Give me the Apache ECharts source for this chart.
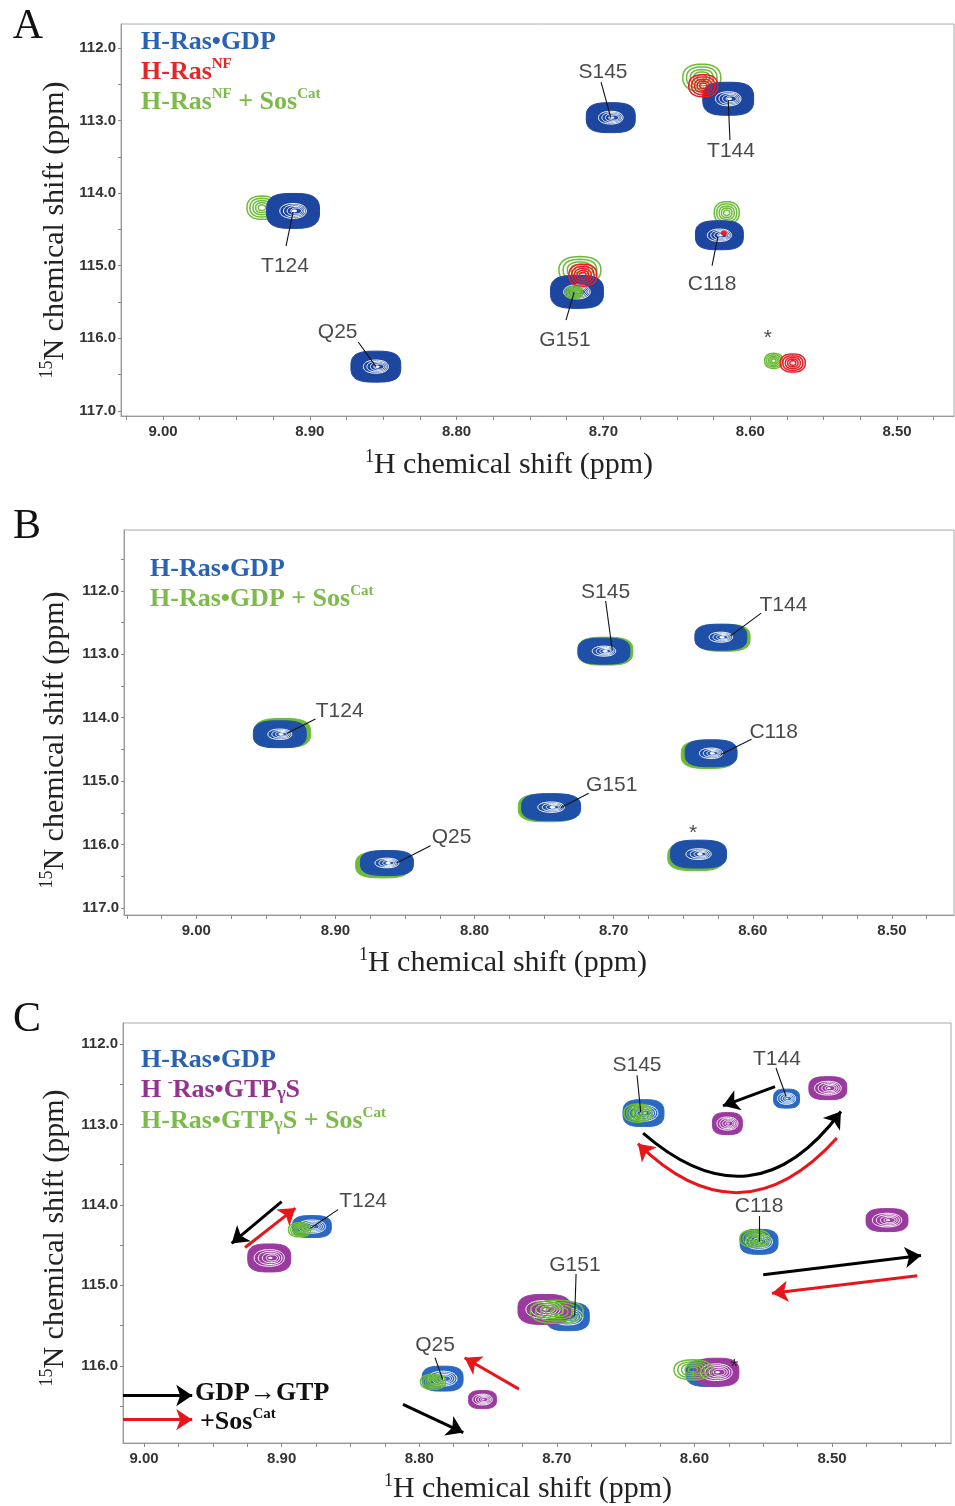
<!DOCTYPE html>
<html><head><meta charset="utf-8">
<script src="https://cdn.jsdelivr.net/npm/echarts@6/dist/echarts.min.js"></script>
<style>html,body{margin:0;padding:0;background:#fff}#c{width:955px;height:1506px}</style>
</head><body><div id="c"></div>
<script>
// ---------- tick labels ----------
const xTickLabels = [9.00, 8.90, 8.80, 8.70, 8.60, 8.50];
const yTickLabels = [112, 113, 114, 115, 116, 117];
const xMinorTicks = [8.425,8.45,8.475,8.5,8.525,8.55,8.575,8.6,8.625,8.65,8.675,8.7,8.725,8.75,8.775,8.8,8.825,8.85,8.875,8.9,8.925,8.95,8.975,9.0,9.025,9.05];
const yMinorTicks = [111.5,112,112.5,113,113.5,114,114.5,115,115.5,116,116.5,117];

// ---------- peaks: [1H ppm, 15N ppm, width 1H ppm, width 15N ppm] ----------
// Panel A
const peaksA_green = [[8.9326,114.20,0.0204,0.32],[8.633,112.41,0.0259,0.372],[8.616,114.27,0.017,0.303],[8.716,115.06,0.0286,0.372],[8.584,116.31,0.0123,0.207]];
const peaksA_blue  = [[8.9114,114.245,0.0361,0.482],[8.855,116.39,0.034,0.427],[8.695,112.96,0.0334,0.413],[8.615,112.70,0.0347,0.455],[8.621,114.58,0.0327,0.40],[8.718,115.36,0.0361,0.455]];
const peaksA_red   = [[8.632,112.52,0.0198,0.303],[8.714,115.13,0.019,0.303],[8.618,114.55,0.003,0.05],[8.571,116.34,0.017,0.248]];
const peaksA_greenInner = [[8.720,115.37,0.012,0.16]];
// Panel B
const peaksB_green = [[8.938,114.24,0.0403,0.457],[8.866,116.32,0.039,0.41],[8.706,112.95,0.0396,0.44],[8.621,112.74,0.0381,0.425],[8.632,114.58,0.0389,0.44],[8.747,115.42,0.0432,0.44],[8.641,116.19,0.0403,0.441]];
const peaksB_blue  = [[8.94,114.26,0.0381,0.425],[8.863,116.29,0.0381,0.394],[8.707,112.95,0.0374,0.41],[8.623,112.73,0.0374,0.41],[8.630,114.56,0.0374,0.425],[8.745,115.41,0.0424,0.425],[8.639,116.15,0.0403,0.441]];
// Panel C
const peaksC_blue   = [[8.878,114.27,0.0283,0.273],[8.783,116.16,0.0298,0.31],[8.637,112.86,0.0298,0.335],[8.533,112.68,0.0189,0.236],[8.553,114.46,0.0276,0.31],[8.692,115.39,0.0313,0.348],[8.589,116.09,0.0342,0.335]];
const peaksC_purple = [[8.909,114.66,0.0313,0.348],[8.754,116.42,0.0203,0.224],[8.576,112.99,0.0218,0.273],[8.503,112.55,0.0276,0.286],[8.46,114.19,0.0305,0.286],[8.709,115.30,0.0385,0.373],[8.584,116.08,0.0327,0.348]];
const peaksC_green  = [[8.887,114.31,0.016,0.174],[8.79,116.2,0.018,0.186],[8.641,112.86,0.0203,0.224],[8.556,114.42,0.0218,0.211],[8.70,115.33,0.0385,0.286],[8.601,116.05,0.0276,0.248]];

// ---------- residue labels [text, 1H, 15N] and leader lines [x1,y1,x2,y2] ----------
const labelsA = [['S145',8.7003,112.33],['T144',8.6131,113.42],['T124',8.9169,115.00],['C118',8.626,115.26],['G151',8.7262,116.02],['Q25',8.881,115.91],['*',8.588,116.0]];
const leadersA = [[8.7016,112.47,8.695,112.96],[8.6138,113.27,8.615,112.72],[8.9162,114.73,8.9114,114.26],[8.626,115.00,8.622,114.60],[8.7255,115.75,8.720,115.37],[8.867,116.05,8.855,116.39]];
const labelsB = [['T124',8.897,113.90],['Q25',8.8165,115.88],['S145',8.7058,112.02],['T144',8.578,112.23],['C118',8.585,114.23],['G151',8.7014,115.06],['*',8.643,115.82]];
const leadersB = [[8.9144,114.02,8.935,114.25],[8.8317,116.02,8.856,116.29],[8.7058,112.16,8.701,112.94],[8.594,112.35,8.616,112.71],[8.601,114.34,8.623,114.58],[8.718,115.19,8.738,115.42]];
const labelsC = [['T124',8.8408,113.96],['Q25',8.7885,115.75],['S145',8.6417,112.27],['T144',8.54,112.19],['C118',8.553,114.02],['G151',8.6868,114.75],['*',8.571,116.02]];
const leadersC = [[8.859,114.06,8.879,114.29],[8.7885,115.90,8.783,116.17],[8.6417,112.39,8.639,112.85],[8.5407,112.30,8.5334,112.65],[8.553,114.14,8.553,114.46],[8.686,114.86,8.687,115.38]];

// ---------- panel C arrows [x1,y1,x2,y2,curveness] ----------
const arrowsC_black = [[8.9,113.96,8.9363,114.48,0],[8.8118,116.48,8.768,116.83,0],[8.5414,112.53,8.5792,112.77,0],[8.6373,113.11,8.4935,112.84,-0.54],[8.55,114.87,8.4353,114.63,0],[9.0153,116.37,8.965,116.37,0]];
const arrowsC_red   = [[8.9266,114.53,8.890,114.04,0],[8.7275,116.29,8.767,115.90,0],[8.4964,113.17,8.641,113.24,0.52],[8.438,114.88,8.5436,115.10,0],[9.0153,116.67,8.965,116.67,0]];

// ---------- layout ----------
const panels = [
  {left:121, top:24,   width:833, height:392, xmin:8.4612, xmax:9.0286, ymin:111.67, ymax:117.07},
  {left:124, top:530,  width:830, height:385, xmin:8.4554, xmax:9.052,  ymin:111.04, ymax:117.11},
  {left:123, top:1023, width:828, height:420, xmin:8.4135, xmax:9.0153, ymin:111.74, ymax:116.96}
];
const COL = {blueA:'#1d46a0', blueB:'#1f50a8', blueC:'#2a68c2', green:'#6cbc38', red:'#ec1c24', purple:'#9a3a9e',
  lgBlue:'#2a62b3', lgRed:'#e2262a', lgGreen:'#7cba4a', lgPurple:'#92348e'};

function sePts(cx, cy, rx, ry, n, seg) {
  const pts = [];
  for (let i = 0; i < seg; i++) {
    const t = i / seg * Math.PI * 2, c = Math.cos(t), s = Math.sin(t);
    pts.push([cx + rx * Math.sign(c) * Math.pow(Math.abs(c), 2 / n), cy + ry * Math.sign(s) * Math.pow(Math.abs(s), 2 / n)]);
  }
  return pts;
}
function makeRender(color, mode, whites) {
  return function (params, api) {
    const x = api.value(0), y = api.value(1);
    const c = api.coord([x, y]);
    const s = api.size([api.value(2), api.value(3)], [x, y]);
    const rx = s[0] / 2, ry = s[1] / 2;
    const ch = [];
    if (mode === 'rings') {
      [1, 0.8, 0.6, 0.42, 0.24].forEach(k => ch.push({type:'polygon', shape:{points: sePts(c[0], c[1], rx * k, ry * k, 2.4, 40)},
        style:{fill:'none', stroke:color, lineWidth:1.5}}));
    } else {
      ch.push({type:'polygon', shape:{points: sePts(c[0], c[1], rx, ry, 3, 56)}, style:{fill:color, stroke:color, lineWidth:1}});
      if (mode === 'solid') {
        whites.forEach((k, i) => ch.push({type:'polygon', shape:{points: sePts(c[0] + rx * 0.04 * i, c[1], rx * k, ry * k * 0.85, 2.2, 40)},
          style:{fill:'none', stroke:'#fff', lineWidth:1}}));
        ch.push({type:'polygon', shape:{points: sePts(c[0] + rx * 0.05, c[1], rx * 0.1, ry * 0.08, 2, 20)}, style:{fill:'#fff'}});
      }
    }
    return {type:'group', children: ch};
  };
}
function peakSeries(pi, data, color, mode, whites, z) {
  return {type:'custom', xAxisIndex:pi, yAxisIndex:pi, data:data, encode:{x:0, y:1}, z:z, silent:true,
    renderItem: makeRender(color, mode, whites || [])};
}
function labelSeries(pi, labels) {
  return {type:'scatter', xAxisIndex:pi, yAxisIndex:pi, z:20, silent:true, symbolSize:1,
    itemStyle:{color:'rgba(0,0,0,0)'},
    label:{show:true, position:'inside', formatter: p => p.name, fontSize:21, color:'#1a1a1a', fontFamily:'Liberation Sans, Arial, sans-serif'},
    data: labels.map(l => ({name:l[0], value:[l[1], l[2]]}))};
}
function leaderSeries(pi, leaders) {
  return {type:'lines', coordinateSystem:'cartesian2d', xAxisIndex:pi, yAxisIndex:pi, z:15, silent:true,
    symbol:'none', lineStyle:{color:'#111', width:1.1, opacity:1},
    data: leaders.map(l => ({coords:[[l[0], l[1]], [l[2], l[3]]]}))};
}
function arrowSeries(pi, arrows, color) {
  return {type:'lines', coordinateSystem:'cartesian2d', xAxisIndex:pi, yAxisIndex:pi, z:16, silent:true,
    symbol:['none','arrow'], symbolSize:[12,16],
    lineStyle:{color:color, width:3, opacity:1},
    data: arrows.map(a => ({coords:[[a[0], a[1]], [a[2], a[3]]], lineStyle:{curveness:a[4], color:color, width:3}}))};
}

const grids = [], xAxes = [], yAxes = [];
panels.forEach((p, i) => {
  grids.push({left:p.left, top:p.top, width:p.width, height:p.height, show:true, borderColor:'#a8a8a8', borderWidth:1, containLabel:false});
  xAxes.push({type:'value', gridIndex:i, inverse:true, min:p.xmin, max:p.xmax, splitLine:{show:false},
    axisLine:{show:true, lineStyle:{color:'#999', width:1}},
    axisTick:{show:true, length:4, lineStyle:{color:'#888'}, customValues: xMinorTicks.filter(v => v >= p.xmin && v <= p.xmax)},
    axisLabel:{customValues: xTickLabels, formatter: v => (+v).toFixed(2), fontSize:15, fontWeight:'bold', color:'#333', margin:8, fontFamily:'Liberation Sans, Arial, sans-serif'}});
  yAxes.push({type:'value', gridIndex:i, inverse:true, min:p.ymin, max:p.ymax, splitLine:{show:false},
    axisLine:{show:true, lineStyle:{color:'#999', width:1}},
    axisTick:{show:true, length:3, lineStyle:{color:'#888'}, customValues: yMinorTicks.filter(v => v >= p.ymin && v <= p.ymax)},
    axisLabel:{customValues: yTickLabels, formatter: v => (+v).toFixed(1), fontSize:15, fontWeight:'bold', color:'#333', margin:5, fontFamily:'Liberation Sans, Arial, sans-serif'}});
});

const series = [
  peakSeries(0, peaksA_green, COL.green, 'rings', null, 2),
  peakSeries(0, peaksA_blue, COL.blueA, 'solid', [0.5, 0.4, 0.3, 0.2], 3),
  peakSeries(0, peaksA_red, COL.red, 'rings', null, 4),
  peakSeries(0, peaksA_greenInner, COL.green, 'rings', null, 5),
  leaderSeries(0, leadersA), labelSeries(0, labelsA),
  peakSeries(1, peaksB_green, COL.green, 'fill', null, 2),
  peakSeries(1, peaksB_blue, COL.blueB, 'solid', [0.45, 0.34, 0.24, 0.15], 3),
  leaderSeries(1, leadersB), labelSeries(1, labelsB),
  peakSeries(2, peaksC_blue, COL.blueC, 'solid', [0.7, 0.55, 0.4, 0.26], 2),
  peakSeries(2, peaksC_purple, COL.purple, 'solid', [0.7, 0.55, 0.4, 0.26], 3),
  peakSeries(2, peaksC_green, COL.green, 'rings', null, 4),
  leaderSeries(2, leadersC), labelSeries(2, labelsC),
  arrowSeries(2, arrowsC_black, '#000'), arrowSeries(2, arrowsC_red, '#e8151b')
];

const SERIF = 'Liberation Serif, Times New Roman, serif';
function lg(color) { return {fontSize:26, fontWeight:'bold', fontFamily:SERIF, fill:color, lineHeight:31}; }
function lgs(color) { return {fontSize:15, fontWeight:'bold', fontFamily:SERIF, fill:color, verticalAlign:'top', lineHeight:15}; }
function lgGamma(color) { return {fontSize:18, fontWeight:'bold', fontFamily:SERIF, fill:color, verticalAlign:'middle', lineHeight:22, padding:[8,0,0,0]}; }
function legendText(x, y, text, rich) {
  return {type:'text', x:x, y:y, z:30, silent:true, style:{text:text, rich:rich, align:'left', verticalAlign:'middle'}};
}
const axisRich = {n:{fontSize:30, fontFamily:SERIF, fill:'#222', lineHeight:34}, s:{fontSize:18, fontFamily:SERIF, fill:'#222', verticalAlign:'top', lineHeight:18}};
function xName(x, y) { return {type:'text', x:x, y:y, silent:true, style:{text:'{s|1}{n|H chemical shift (ppm)}', rich:axisRich, align:'center', verticalAlign:'middle'}}; }
function yName(x, y) { return {type:'text', x:x, y:y, rotation:Math.PI / 2, silent:true, style:{text:'{s|15}{n|N chemical shift (ppm)}', rich:axisRich, align:'center', verticalAlign:'middle'}}; }
function letter(x, y, t) { return {type:'text', x:x, y:y, silent:true, style:{text:t, font:'42px ' + SERIF, fill:'#111', align:'center', verticalAlign:'middle'}}; }

const graphic = [
  letter(28, 27, 'A'), letter(27, 527, 'B'), letter(27, 1020, 'C'),
  xName(509, 465), yName(55, 230),
  xName(503, 963), yName(55, 740),
  xName(528, 1489), yName(55, 1238),
  legendText(141, 42, '{b|H-Ras•GDP}', {b:lg(COL.lgBlue)}),
  legendText(141, 72, '{r|H-Ras}{rs|NF}', {r:lg(COL.lgRed), rs:lgs(COL.lgRed)}),
  legendText(141, 102, '{g|H-Ras}{gs|NF}{g| + Sos}{gs|Cat}', {g:lg(COL.lgGreen), gs:lgs(COL.lgGreen)}),
  legendText(150, 569, '{b|H-Ras•GDP}', {b:lg(COL.lgBlue)}),
  legendText(150, 599, '{g|H-Ras•GDP + Sos}{gs|Cat}', {g:lg(COL.lgGreen), gs:lgs(COL.lgGreen)}),
  legendText(141, 1060, '{b|H-Ras•GDP}', {b:lg(COL.lgBlue)}),
  legendText(141, 1090, '{p|H }{ps|-}{p|Ras•GTP}{pg|γ}{p|S}', {p:lg(COL.lgPurple), ps:lgs(COL.lgPurple), pg:lgGamma(COL.lgPurple)}),
  legendText(141, 1121, '{g|H-Ras•GTP}{gg|γ}{g|S + Sos}{gs|Cat}', {g:lg(COL.lgGreen), gs:lgs(COL.lgGreen), gg:lgGamma(COL.lgGreen)}),
  legendText(195, 1393, '{k|GDP→GTP}', {k:lg('#111')}),
  legendText(200, 1422, '{k|+Sos}{ks|Cat}', {k:lg('#111'), ks:lgs('#111')})
];

const chart = echarts.init(document.getElementById('c'), null, {renderer:'canvas'});
chart.setOption({animation:false, backgroundColor:'#fff', grid:grids, xAxis:xAxes, yAxis:yAxes, series:series, graphic:graphic});
</script>
</body></html>
